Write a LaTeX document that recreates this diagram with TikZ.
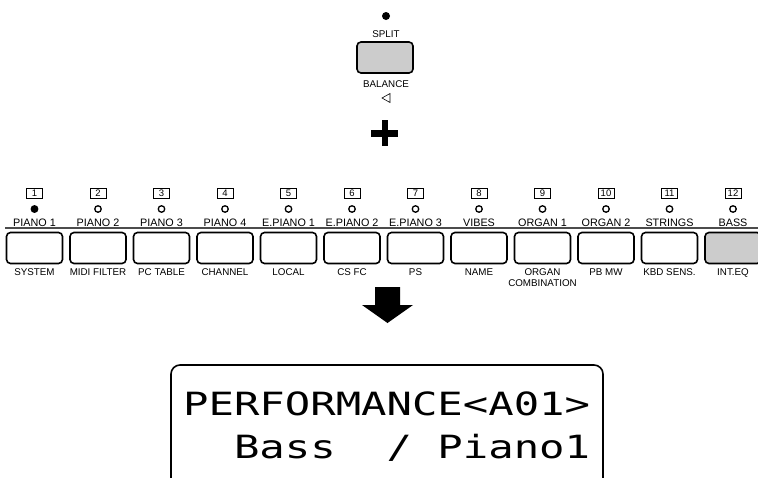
\documentclass[tikz,border=0pt]{standalone}
\usepackage{fontspec}
\setmainfont{Liberation Sans}
\newfontfamily\lcdfont[FakeStretch=1.32]{DejaVu Sans Mono}
\usetikzlibrary{positioning}
\tikzset{
 keybtn/.style={draw,line width=1.6pt,rounded corners=4pt,minimum width=56pt,minimum height=31pt,inner sep=0pt},
 numbox/.style={draw,line width=0.6pt,minimum width=16pt,minimum height=10pt,inner sep=0pt,font=\fontsize{9.5}{10}\selectfont},
 led/.style={circle,draw,line width=1.3pt,minimum size=6.5pt,inner sep=0pt},
 toplbl/.style={font=\fontsize{10.8}{12}\selectfont,inner sep=0pt},
 botlbl/.style={font=\fontsize{9.8}{11}\selectfont,align=center,inner sep=0pt},
 lcdtxt/.style={font=\lcdfont\fontsize{32}{32}\selectfont,inner sep=0pt}
}
\begin{document}
\begin{tikzpicture}[x=1pt,y=-1pt]
 \useasboundingbox (0,0) rectangle (758,477);
 \clip (0,0) rectangle (758,477);
 % split / balance key
 \node[circle,fill,minimum size=8pt,inner sep=0pt] (splitled) at (386,16) {};
 \node[botlbl,anchor=base] (splitlbl) at (386,37) {SPLIT};
 \node[keybtn,fill=gray!40] (splitbtn) at (385,57.5) {};
 \node[botlbl,anchor=base] (ballbl) at (386,87) {BALANCE};
 \draw[line width=0.6pt] (390,93.5)--(382,98)--(390,102.5)--cycle;
 \fill (371,130) rectangle (398,137);
 \fill (381.5,120) rectangle (388,146);
 % twelve keys
 \draw[line width=1.2pt,gray!60!black] (5,228)--(758,228);
 \foreach \n/\up/\dn/\ledc/\btnc [count=\k from 0] in {
  1/PIANO 1/SYSTEM/black/white, 2/PIANO 2/MIDI FILTER/white/white,
  3/PIANO 3/PC TABLE/white/white, 4/PIANO 4/CHANNEL/white/white,
  5/E.PIANO 1/LOCAL/white/white, 6/E.PIANO 2/CS FC/white/white,
  7/E.PIANO 3/PS/white/white, 8/VIBES/NAME/white/white,
  9/ORGAN 1/{ORGAN\\COMBINATION}/white/white, 10/ORGAN 2/PB MW/white/white,
  11/STRINGS/KBD SENS./white/white, 12/BASS/INT.EQ/white/gray!40} {
  \node[numbox] (num\n) at (34.5+63.5*\k,193) {\n};
  \node[led,fill=\ledc] (led\n) at (34.5+63.5*\k,209) {};
  \node[toplbl,anchor=base] (name\n) at (34.5+63.5*\k,226) {\up};
  \node[keybtn,fill=\btnc] (btn\n) at (34.5+63.5*\k,248) {};
  \node[botlbl,below=4.5pt of btn\n] (fn\n) {\dn};
 }
 \fill (375,287)--(400,287)--(400,305)--(413,305)--(387.5,323)--(362,305)--(375,305)--cycle;
 % display
 \draw[line width=1.6pt,rounded corners=9pt] (171,495)--(171,365)--(603,365)--(603,495);
 \node[lcdtxt,anchor=base west] (lcdtop) at (183,415) {PERFORMANCE<A01>};
 \node[lcdtxt,anchor=base west] (lcdbot) at (183,458) {~~Bass~~/~Piano1};
\end{tikzpicture}
\end{document}
